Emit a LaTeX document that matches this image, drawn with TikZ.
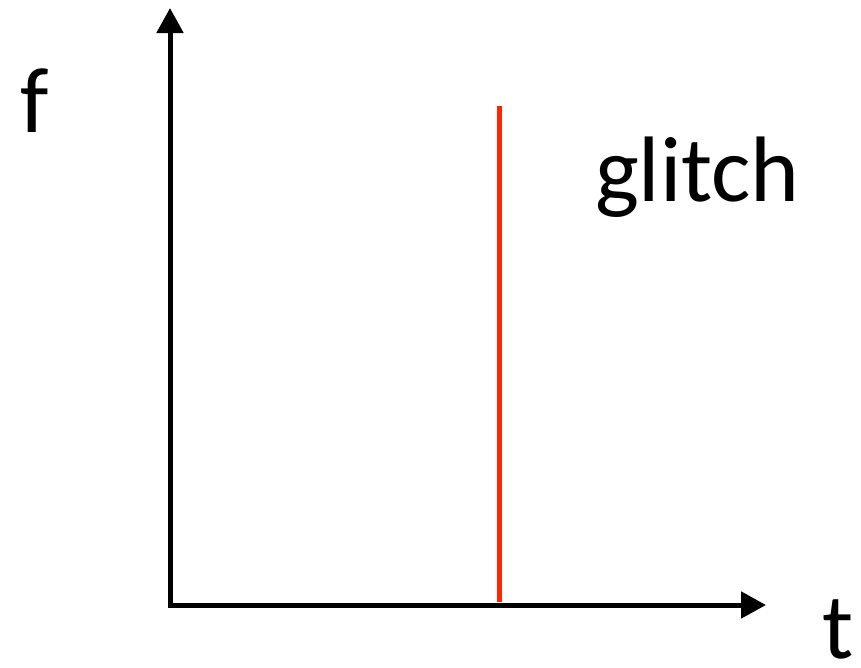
\documentclass[tikz,border=0pt]{standalone}
\usepackage{fontspec}
\setmainfont{Carlito}
\usetikzlibrary{arrows.meta, positioning}
\definecolor{glitchred}{RGB}{255,38,0}

\begin{document}
\begin{tikzpicture}[
		x=1pt, y=-1pt,
		axis/.style={line width=5pt, black, line join=miter, {Triangle[length=25pt, width=26pt]}-{Triangle[length=25pt, width=26pt]}},
		spike/.style={line width=5pt, glitchred},
		lbl/.style={inner sep=0pt, anchor=base, font=\fontsize{93}{100}\selectfont}
		]
		\useasboundingbox (0,0) rectangle (861,667);
		
		% Axes
		\coordinate (origin) at (170,605);
		\coordinate (ftop) at (170,8);
		\coordinate (tend) at (766,605);
		\draw[axis] (ftop) -- (origin) -- (tend);
		
		% Glitch
		\coordinate (spikebot) at (499,602);
		\coordinate (spiketop) at (499,106);
		\draw[spike] (spikebot) -- (spiketop);
		
		% Labels
		\node[lbl] (flbl) at (35,132) {f};
		\node[lbl] (tlbl) at (838,658) {t};
		\node[lbl] (glbl) at (697.5,201) {glitch};
	\end{tikzpicture}
\end{document}
